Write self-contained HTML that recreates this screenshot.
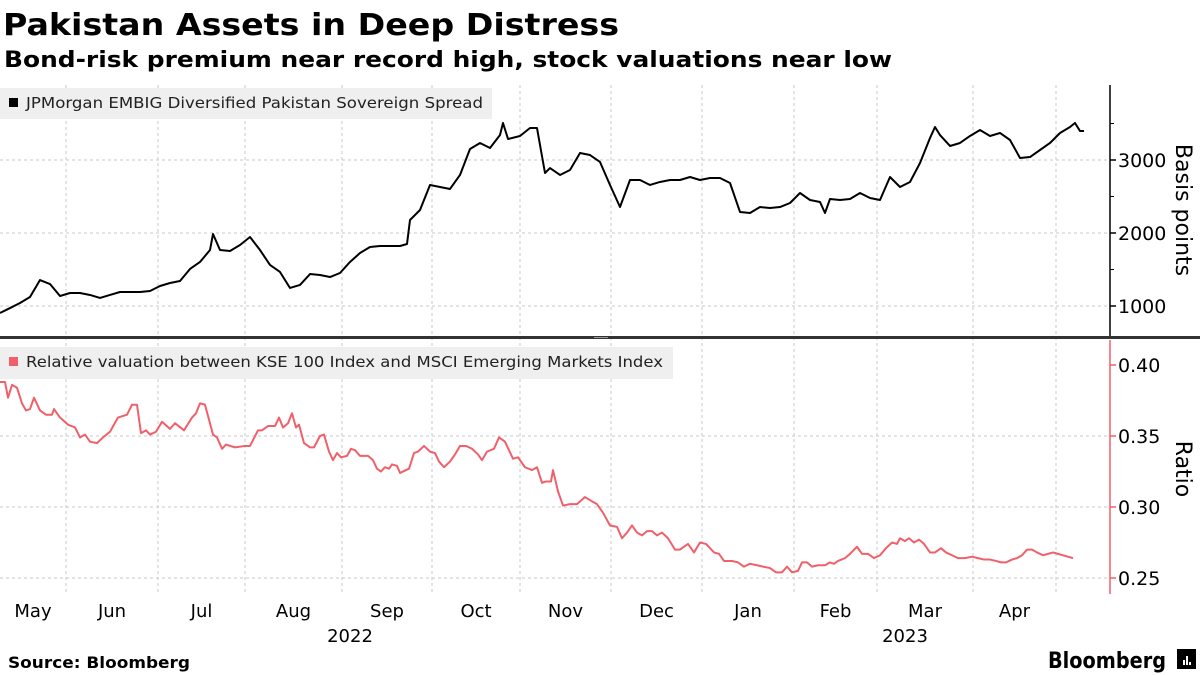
<!DOCTYPE html>
<html><head><meta charset="utf-8"><style>
body{margin:0;background:#fff;font-family:"DejaVu Sans","Liberation Sans",sans-serif;}
#wrap{position:relative;width:1200px;height:675px;overflow:hidden;}
text{font-family:"DejaVu Sans","Liberation Sans",sans-serif;}
</style></head><body>
<div id="wrap">
<svg id="svg" width="1200" height="675" xmlns="http://www.w3.org/2000/svg">
<text x="3" y="35" font-size="30" font-weight="bold" fill="#000" textLength="616" lengthAdjust="spacingAndGlyphs">Pakistan Assets in Deep Distress</text>
<text x="4" y="67" font-size="22" font-weight="bold" fill="#000" textLength="888" lengthAdjust="spacingAndGlyphs">Bond-risk premium near record high, stock valuations near low</text>
<g id="grid"></g>
<rect x="0" y="88" width="492" height="31" fill="#efefef"/>
<rect x="9" y="98" width="9" height="9" fill="#000"/>
<text x="26" y="108" font-size="15" fill="#222" textLength="457" lengthAdjust="spacingAndGlyphs">JPMorgan EMBIG Diversified Pakistan Sovereign Spread</text>
<rect x="0" y="347" width="673" height="32" fill="#efefef"/>
<rect x="9" y="357" width="9" height="9" fill="#f0606a"/>
<text x="26" y="367" font-size="15" fill="#222" textLength="637" lengthAdjust="spacingAndGlyphs">Relative valuation between KSE 100 Index and MSCI Emerging Markets Index</text>
<g id="series"></g>
<rect x="0" y="336" width="1200" height="3" fill="#333"/>
<rect x="594" y="337" width="14" height="1" fill="#999"/>
<line x1="1110" y1="85" x2="1110" y2="336" stroke="#000" stroke-width="1.5"/>
<line x1="1110" y1="340" x2="1110" y2="594" stroke="#f0606a" stroke-width="1.5"/>
<g id="axes"></g>
<text transform="translate(1176,210) rotate(90)" text-anchor="middle" font-size="22" fill="#000">Basis points</text>
<text transform="translate(1176,469) rotate(90)" text-anchor="middle" font-size="22" fill="#000">Ratio</text>
<text x="8" y="668" font-size="16" font-weight="bold" fill="#000" textLength="182" lengthAdjust="spacingAndGlyphs">Source: Bloomberg</text>
<text x="1048" y="668" font-size="22" font-weight="bold" fill="#000" textLength="118" lengthAdjust="spacingAndGlyphs">Bloomberg</text>
<g><rect x="1177" y="649" width="19" height="20" fill="#000"/><rect x="1183" y="660" width="2" height="5" fill="#fff"/><rect x="1186" y="656" width="2" height="9" fill="#fff"/><rect x="1189" y="662" width="2" height="3" fill="#fff"/></g>
</svg>
</div>
<script>
// time index (trading-session index) and values
const spreadT=[0,10,20,30,40,50,60,70,80,90,100,110,120,130,140,150,160,170,180,190,200,210,213,220,230,240,250,260,270,280,290,300,310,320,330,340,350,360,370,380,390,400,407,410,420,430,440,450,460,470,480,490,500,503,508,520,530,537,545,550,560,570,580,590,600,610,620,630,640,650,660,670,680,690,700,710,720,730,740,750,760,770,780,790,800,810,820,825,830,840,850,860,870,880,890,900,910,920,930,935,940,950,960,970,980,990,1000,1010,1020,1030,1040,1050,1060,1070,1075,1080,1084];
const spreadVals=[904,972,1041,1123,1356,1301,1137,1178,1178,1151,1110,1151,1192,1192,1192,1205,1274,1315,1342,1507,1603,1767,1986,1767,1753,1836,1945,1767,1562,1466,1247,1288,1438,1425,1397,1452,1603,1726,1808,1822,1822,1822,1849,2178,2315,2658,2630,2603,2795,3151,3233,3164,3342,3507,3288,3329,3438,3438,2822,2890,2795,2863,3096,3068,2973,2658,2356,2726,2726,2658,2699,2726,2726,2767,2726,2753,2753,2685,2288,2274,2356,2342,2356,2411,2548,2452,2425,2274,2466,2452,2466,2548,2479,2452,2767,2630,2699,2959,3301,3452,3342,3192,3233,3329,3411,3329,3370,3274,3027,3041,3137,3233,3370,3452,3507,3397,3397];
const ratioT=[0,5,8,12,17,22,26,30,34,40,46,52,54,60,68,75,80,85,90,97,103,110,118,127,132,137,141,146,150,156,162,170,175,184,192,196,200,205,213,217,222,226,235,245,250,258,262,268,275,279,283,288,292,296,299,304,310,314,320,324,329,333,337,341,347,351,355,360,368,373,377,381,385,389,392,397,400,409,414,418,424,430,435,439,444,450,455,460,466,472,478,482,487,494,499,505,513,518,525,532,537,542,546,551,553,558,563,570,577,585,592,597,603,610,617,622,627,632,637,642,647,652,657,662,668,675,680,688,694,700,706,714,719,724,732,738,744,750,757,763,770,776,782,787,792,798,802,807,812,818,825,830,834,838,845,850,857,862,868,874,880,886,892,897,900,905,909,914,919,924,930,935,941,946,952,958,965,972,978,984,990,996,1001,1006,1012,1017,1022,1027,1032,1037,1043,1048,1053,1058,1063,1068,1073];
const ratioVals=[0.388,0.388,0.377,0.386,0.384,0.373,0.368,0.369,0.377,0.368,0.365,0.365,0.369,0.363,0.358,0.356,0.349,0.351,0.346,0.345,0.349,0.353,0.363,0.365,0.372,0.372,0.352,0.354,0.351,0.353,0.360,0.355,0.359,0.354,0.363,0.366,0.373,0.372,0.351,0.349,0.341,0.344,0.342,0.343,0.343,0.354,0.354,0.357,0.357,0.363,0.356,0.359,0.366,0.356,0.358,0.345,0.342,0.342,0.350,0.351,0.339,0.333,0.338,0.335,0.336,0.341,0.340,0.336,0.336,0.333,0.327,0.325,0.328,0.327,0.330,0.329,0.324,0.327,0.338,0.339,0.343,0.339,0.338,0.332,0.328,0.332,0.337,0.343,0.343,0.341,0.337,0.333,0.339,0.341,0.349,0.346,0.334,0.335,0.328,0.326,0.328,0.317,0.318,0.318,0.326,0.311,0.301,0.302,0.302,0.307,0.304,0.302,0.296,0.287,0.286,0.278,0.282,0.287,0.282,0.280,0.283,0.283,0.280,0.282,0.278,0.270,0.270,0.274,0.268,0.275,0.274,0.268,0.267,0.262,0.262,0.261,0.258,0.260,0.259,0.258,0.257,0.254,0.254,0.258,0.254,0.255,0.261,0.261,0.258,0.259,0.259,0.261,0.260,0.262,0.264,0.267,0.272,0.267,0.267,0.264,0.266,0.271,0.275,0.274,0.278,0.276,0.278,0.275,0.277,0.274,0.268,0.268,0.271,0.268,0.266,0.264,0.264,0.265,0.264,0.263,0.263,0.262,0.261,0.261,0.263,0.264,0.266,0.270,0.270,0.268,0.266,0.267,0.268,0.267,0.266,0.265,0.264];
const monthLabels=["May","Jun","Jul","Aug","Sep","Oct","Nov","Dec","Jan","Feb","Mar","Apr"];
const monthStarts=[0,66,158,245,342,432,520,611,702,794,877,973,1056];
const yearLabels=["2022","2023"];
const yearCenters=[350,905];
const spreadTicks=[1000,2000,3000];
const ratioTicks=[0.25,0.30,0.35,0.40];

const NS="http://www.w3.org/2000/svg";
const X0=0,X1=1100,T0=0,T1=1100;
function x(t){return X0+(t-T0)/(T1-T0)*(X1-X0);}
function yTop(v){return 160-(v-3000)*0.073;}
function yBot(v){return 436-(v-0.35)*1420;}
function mk(tag,attrs,parent){const e=document.createElementNS(NS,tag);for(const k in attrs)e.setAttribute(k,attrs[k]);parent.appendChild(e);return e;}
const grid=document.getElementById('grid'),series=document.getElementById('series'),axes=document.getElementById('axes');
monthStarts.slice(1).forEach((m)=>{
  const l=mk('line',{x1:x(m),x2:x(m),y1:85,y2:593,stroke:'#c8c8c8','stroke-dasharray':'3,3','stroke-width':1},grid);
  
  
});
spreadTicks.forEach(v=>{
  const l=mk('line',{x1:0,x2:1110,y1:yTop(v),y2:yTop(v),stroke:'#c8c8c8','stroke-dasharray':'3,3'},grid);
  
  
  const tk=mk('line',{x1:1110,x2:1116,y1:yTop(v),y2:yTop(v),stroke:'#000','stroke-width':1.5},axes);
  
  
  const t=mk('text',{x:1118,y:yTop(v)+7,'font-size':19,fill:'#000'},axes);t.textContent=v;
  
  
});
[1500,2500,3500].forEach(v=>{const tk=mk('line',{x1:1110,x2:1114,y1:yTop(v),y2:yTop(v),stroke:'#000'},axes);
  
  });
ratioTicks.forEach(v=>{
  if(v<0.4){const l=mk('line',{x1:0,x2:1110,y1:yBot(v),y2:yBot(v),stroke:'#c8c8c8','stroke-dasharray':'3,3'},grid);
  
  }
  const tk=mk('line',{x1:1110,x2:1116,y1:yBot(v),y2:yBot(v),stroke:'#f0606a','stroke-width':1.5},axes);
  
  
  const t=mk('text',{x:1118,y:yBot(v)+7,'font-size':19,fill:'#000'},axes);t.textContent=v.toFixed(2);
  
  
});
monthLabels.forEach((m,i)=>{
  const c=i===0?33:(x(monthStarts[i])+x(monthStarts[i+1]||1086))/2;
  const t=mk('text',{x:c,y:617,'text-anchor':'middle','font-size':18,fill:'#000'},axes);t.textContent=m;
  
  
});
yearLabels.forEach((yl,i)=>{
  const t=mk('text',{x:yearCenters[i],y:642,'text-anchor':'middle','font-size':18,fill:'#000'},axes);t.textContent=yl;
  
  
});
const p1=mk('polyline',{points:spreadT.map((t,i)=>x(t)+','+yTop(spreadVals[i])).join(' '),fill:'none',stroke:'#000','stroke-width':2,'stroke-linejoin':'round'},series);


const p2=mk('polyline',{points:ratioT.map((t,i)=>x(t)+','+yBot(ratioVals[i])).join(' '),fill:'none',stroke:'#f0606a','stroke-width':2,'stroke-linejoin':'round'},series);


</script>
</body></html>
